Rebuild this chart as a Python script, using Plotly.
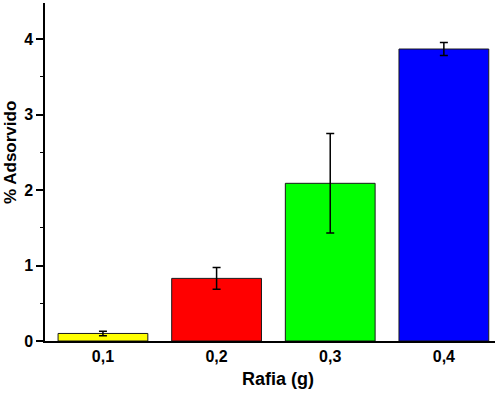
import plotly.graph_objects as go

categories = ["0,1", "0,2", "0,3", "0,4"]
values = [0.10, 0.83, 2.09, 3.87]
errors = [0.03, 0.145, 0.66, 0.085]
colors = ["#FFFF00", "#FF0000", "#00FF00", "#0000FF"]

FAM = "Liberation Sans, Arial, sans-serif"
tickfont = dict(family=FAM, size=16, color="black", weight="bold")
xtitlefont = dict(family=FAM, size=18, color="black", weight="bold")
ytitlefont = dict(family=FAM, size=17, color="black", weight="bold")

fig = go.Figure()
fig.add_trace(go.Bar(
    x=categories, y=values,
    marker=dict(color=colors, line=dict(color="#1a1a1a", width=1)),
    width=0.79,
    error_y=dict(type="data", array=errors, visible=True, color="black", thickness=1.5, width=4),
))

fig.update_layout(
    width=497, height=393,
    margin=dict(l=45, r=2, t=3, b=52),
    paper_bgcolor="white", plot_bgcolor="white",
    showlegend=False,
    annotations=[
        dict(text="Rafia (g)", xref="paper", yref="paper", x=0.517, y=-0.112,
             xanchor="center", yanchor="middle", showarrow=False, font=xtitlefont),
        dict(text="% Adsorvido", xref="paper", yref="paper", x=-0.078, y=0.559,
             xanchor="center", yanchor="middle", showarrow=False, textangle=-90, font=ytitlefont),
    ],
)
fig.update_xaxes(
    type="category", range=[-0.51, 3.45], automargin=False,
    showline=True, linecolor="black", linewidth=1.5,
    ticks="", showgrid=False, tickfont=tickfont,
)
fig.update_yaxes(
    range=[0, 4.48], dtick=1, tick0=0, automargin=False,
    showline=True, linecolor="black", linewidth=1.5,
    ticks="outside", ticklen=7, tickwidth=1.5, tickcolor="black",
    minor=dict(dtick=0.5, ticks="outside", ticklen=3, tickwidth=1, tickcolor="black", showgrid=False),
    showgrid=False, zeroline=False, tickfont=tickfont,
)

fig.write_html("out.html", config={"displayModeBar": False},
               post_script="document.body.style.margin='0';document.body.style.overflow='hidden';")
